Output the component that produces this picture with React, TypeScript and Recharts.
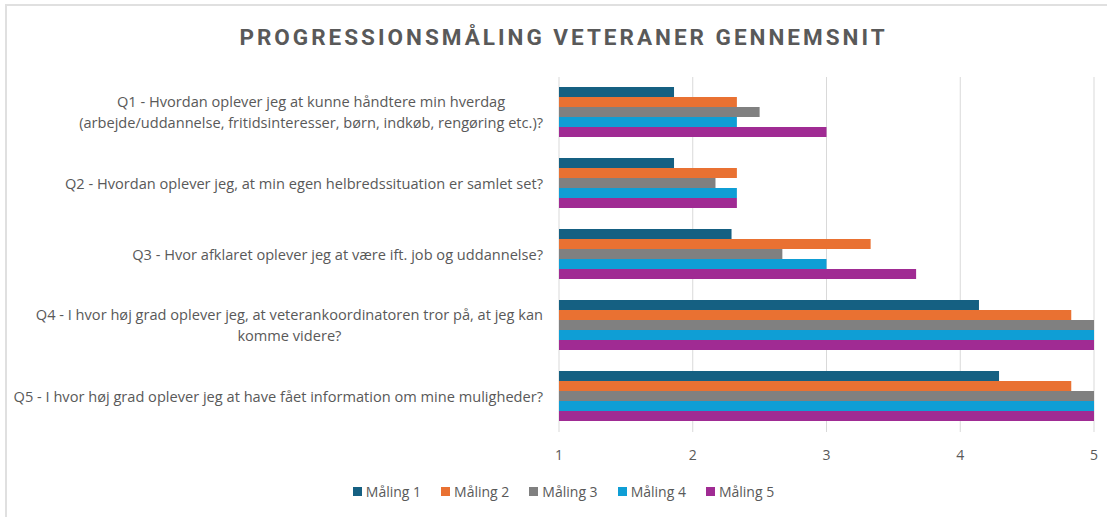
import React from 'react';
import { BarChart, Bar, XAxis, YAxis, CartesianGrid } from 'recharts';

const categories = ['Q1', 'Q2', 'Q3', 'Q4', 'Q5'];
const categoryLabelLines: string[][] = [
  ['Q1 - Hvordan oplever jeg at kunne håndtere min hverdag', '(arbejde/uddannelse, fritidsinteresser, børn, indkøb, rengøring etc.)?'],
  ['Q2 - Hvordan oplever jeg, at min egen helbredssituation er samlet set?'],
  ['Q3 - Hvor afklaret oplever jeg at være ift. job og uddannelse?'],
  ['Q4 - I hvor høj grad oplever jeg, at veterankoordinatoren tror på, at jeg kan', 'komme videre?'],
  ['Q5 - I hvor høj grad oplever jeg at have fået information om mine muligheder?'],
];
const maling1 = [1.86, 1.86, 2.29, 4.14, 4.29];
const maling2 = [2.33, 2.33, 3.33, 4.83, 4.83];
const maling3 = [2.5, 2.17, 2.67, 5, 5];
const maling4 = [2.33, 2.33, 3, 5, 5];
const maling5 = [3, 2.33, 3.67, 5, 5];
const seriesNames = ['Måling 1', 'Måling 2', 'Måling 3', 'Måling 4', 'Måling 5'];
const seriesColors = ['#156082', '#E97132', '#808080', '#0F9ED5', '#A02B93'];
const xTicks = [1, 2, 3, 4, 5];
const title = 'PROGRESSIONSMÅLING VETERANER GENNEMSNIT';

const seriesValues = [maling1, maling2, maling3, maling4, maling5];
const data = categories.map((c, i) => {
  const row: Record<string, string | number> = { cat: c };
  seriesNames.forEach((s, j) => {
    row[s] = seriesValues[j][i];
  });
  return row;
});

const TEXT = '#595959';
const FONT = '"Open Sans", "Noto Sans", sans-serif';
const LABEL_SIZE = 14.6;

let ctx: CanvasRenderingContext2D | null = null;
function measure(t: string): number {
  if (!ctx) {
    const c = document.createElement('canvas');
    ctx = c.getContext('2d');
  }
  if (!ctx) return t.length * 7;
  ctx.font = `${LABEL_SIZE}px "Open Sans"`;
  return ctx.measureText(t).width;
}

const YTick = (props: any) => {
  const { x, y, payload } = props;
  const idx = categories.indexOf(payload.value);
  const lines = categoryLabelLines[idx] || [payload.value];
  const maxW = Math.max(...lines.map(measure));
  const cx = x - maxW / 2;
  const lh = 21;
  const startY = y - ((lines.length - 1) * lh) / 2;
  return (
    <g>
      {lines.map((l, i) => (
        <text
          key={i}
          x={cx}
          y={startY + i * lh}
          dy="0.35em"
          textAnchor="middle"
          fill={TEXT}
          fontSize={LABEL_SIZE}
          fontFamily={FONT}
        >
          {l}
        </text>
      ))}
    </g>
  );
};

export default function App() {
  return (
    <div style={{ position: 'fixed', left: 0, top: 0, width: 1107, height: 517, background: '#fff', overflow: 'hidden' }}>
      <div
        style={{
          position: 'absolute',
          left: 5,
          top: 4,
          right: -10,
          bottom: -10,
          borderTop: '2px solid #e0e0e0',
          borderLeft: '2px solid #e0e0e0',
        }}
      />
      <div
        style={{
          position: 'absolute',
          top: 26,
          left: 20,
          width: 1087,
          textAlign: 'center',
          fontFamily: 'Roboto, sans-serif',
          fontWeight: 700,
          fontSize: 22.5,
          lineHeight: '22px',
          letterSpacing: 3,
          color: TEXT,
        }}
      >
        {title}
      </div>
      <div style={{ position: 'absolute', left: 0, top: 0 }}>
        <BarChart
          width={1107}
          height={517}
          data={data}
          layout="vertical"
          margin={{ top: 77, right: 13, bottom: 55, left: 0 }}
          barCategoryGap="14%"
          barGap={0}
        >
          <CartesianGrid horizontal={false} stroke="#d9d9d9" strokeWidth={1} />
          <XAxis
            type="number"
            domain={[1, 5]}
            ticks={xTicks}
            axisLine={false}
            tickLine={false}
            tickMargin={12}
            tick={{ fill: TEXT, fontSize: 14, fontFamily: FONT }}
            allowDataOverflow
          />
          <YAxis
            type="category"
            dataKey="cat"
            width={559}
            axisLine={false}
            tickLine={false}
            tickMargin={10}
            tick={<YTick />}
            interval={0}
          />
          {seriesNames.map((s, j) => (
            <Bar key={s} dataKey={s} fill={seriesColors[j]} isAnimationActive={false} />
          ))}
        </BarChart>
      </div>
      <div
        style={{
          position: 'absolute',
          top: 482,
          left: 20,
          width: 1087,
          display: 'flex',
          justifyContent: 'center',
          fontFamily: FONT,
          fontSize: 14,
          color: TEXT,
          gap: 20,
        }}
      >
        {seriesNames.map((s, j) => (
          <div key={s} style={{ display: 'flex', alignItems: 'center', gap: 4 }}>
            <span style={{ display: 'inline-block', width: 9, height: 9, background: seriesColors[j] }} />
            <span>{s}</span>
          </div>
        ))}
      </div>
    </div>
  );
}
